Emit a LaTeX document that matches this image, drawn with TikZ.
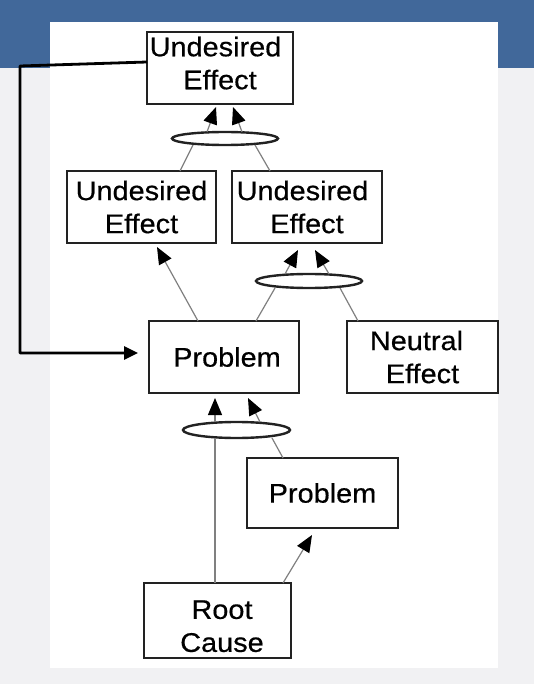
\documentclass[tikz,border=0pt]{standalone}
\usepackage{fontspec}
\setmainfont{Liberation Sans}[FakeStretch=1.07,FakeBold=0.5]
\usetikzlibrary{arrows.meta,shapes.geometric,calc}
\definecolor{bandblue}{HTML}{41689A}
\definecolor{pagegray}{HTML}{F1F1F3}
\definecolor{boxline}{HTML}{222222}
\definecolor{connline}{HTML}{808080}
\begin{document}
\begin{tikzpicture}[x=1pt,y=-1pt,
  box/.style={draw=boxline, line width=2.5pt, fill=white, inner sep=0pt, align=center,
    font=\fontsize{27}{33}\selectfont},
  oval/.style={ellipse, draw=boxline, line width=2.4pt, fill=white, inner sep=0pt},
  conn/.style={draw=connline, line width=1.2pt},
  arr/.style={conn, -{Triangle[length=17pt,width=14pt,color=black]}},
  feedback/.style={draw=black, line width=2.8pt, line join=round,
    -{Triangle[length=14pt,width=13pt]}}
]
% background
\fill[pagegray] (0,0) rectangle (534,684);
\fill[bandblue] (0,0) rectangle (534,68);
\fill[white] (50,22) rectangle (498,668);
\useasboundingbox (0,0) rectangle (534,684);

% nodes
\node[box, minimum width=146pt, minimum height=72pt] (ue0) at (220,68)
  {\hspace*{-9pt}Undesired\\Effect\rule[-10pt]{0pt}{0pt}};
\node[box, minimum width=149pt, minimum height=72pt] (ue1) at (141.5,207) {Undesired\\Effect};
\node[box, minimum width=150pt, minimum height=72pt] (ue2) at (307,207) {\hspace*{-9pt}Undesired\\Effect};
\node[box, minimum width=150pt, minimum height=72pt] (pr1) at (224,357) {\hspace*{6pt}Problem};
\node[box, minimum width=151pt, minimum height=72pt] (ne) at (422.5,357) {\hspace*{-12pt}Neutral\\Effect};
\node[box, minimum width=151pt, minimum height=70pt] (pr2) at (322.5,493) {Problem};
\node[box, minimum width=147pt, minimum height=75pt] (root) at (217.5,620.5)
  {\hspace*{9pt}\rule{0pt}{30pt}Root\\\hspace*{9pt}Cause};

\node[oval, minimum width=106pt, minimum height=13pt] (e1) at (225,138.5) {};
\node[oval, minimum width=106pt, minimum height=14pt] (e2) at (309,281) {};
\node[oval, minimum width=107pt, minimum height=16pt] (e3) at (236.5,430) {};

% connectors: ellipse 1 -> top undesired effect
\draw[arr] ($(e1)+(-18,-6.5)$) -- ($(ue0)+(-4,39)$);
\draw[arr] ($(e1)+(17,-6.5)$) -- ($(ue0)+(13,39)$);
\draw[conn] ($(ue1)+(38.5,-36)$) -- ($(e1)+(-32,6.5)$);
\draw[conn] ($(ue2)+(-37,-36)$) -- ($(e1)+(30,6.5)$);

% ellipse 2 -> right undesired effect
\draw[arr] ($(e2)+(-24,-7)$) -- ($(ue2)+(-9,43)$);
\draw[arr] ($(e2)+(20,-7)$) -- ($(ue2)+(8,43)$);
\draw[conn] ($(pr1)+(32,-36)$) -- ($(e2)+(-34,7)$);
\draw[conn] ($(ne)+(-64.5,-36)$) -- ($(e2)+(31,7)$);

% problem -> left undesired effect
\draw[arr] ($(pr1)+(-26,-36)$) -- ($(ue1)+(15.5,40)$);

% ellipse 3 -> problem
\draw[arr] ($(e3)+(-21.5,-8)$) -- ($(pr1)+(-9,41)$);
\draw[arr] ($(e3)+(23.5,-8)$) -- ($(pr1)+(24,41)$);
\draw[conn] ($(pr2)+(-39.5,-35)$) -- ($(e3)+(35.5,8)$);
\draw[conn] ($(root)+(-2.5,-37.5)$) -- ($(e3)+(-21.5,8)$);

% root cause -> lower problem
\draw[arr] ($(root)+(65.5,-37.5)$) -- ($(pr2)+(-10.5,42)$);

% feedback loop
\coordinate (fbA) at (20,66);
\coordinate (fbB) at (20,353);
\draw[feedback] ($(ue0)+(-73,-6)$) -- (fbA) -- (fbB) -- ($(pr1)+(-86,-4)$);
\end{tikzpicture}
\end{document}
